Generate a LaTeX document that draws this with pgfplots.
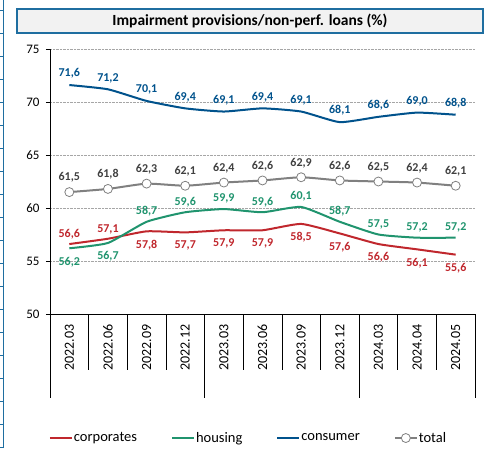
\documentclass[border=0pt]{standalone}
\usepackage{pgfplots}
\pgfplotsset{compat=1.18}
\usepackage{fontspec}
\setmainfont{Carlito}
\definecolor{corp}{RGB}{192,39,45}
\definecolor{hous}{RGB}{32,148,110}
\definecolor{cons}{RGB}{0,82,140}
\definecolor{tot}{RGB}{128,128,128}
\definecolor{totlab}{RGB}{64,64,64}
\definecolor{frameblue}{RGB}{31,110,160}
\definecolor{titlegray}{RGB}{242,242,242}
\newcommand{\lbl}{\pgfmathprintnumber[fixed,fixed zerofill,precision=1,use comma,assume math mode=true]{\pgfplotspointmeta}}
\begin{document}
\begin{tikzpicture}
\useasboundingbox (0pt,0pt) rectangle (487pt,448pt);
% left strip (cut-off neighbouring element)
\draw[frameblue, line width=0.8pt] (3pt,0pt) -- (3pt,448pt);
\foreach \yy in {438,415,392,369,346,323,300,277,254,231,208,185,162,139,116,93,70,47,24,1}
  \draw[frameblue, line width=0.6pt] (0pt,\yy pt) -- (3pt,\yy pt);
% title box
\draw[fill=titlegray, draw=frameblue, line width=1.2pt] (17pt,415pt) rectangle (483pt,439pt);
\node[font=\bfseries\fontsize{15.5}{17}\selectfont] at (250pt,427pt) {Impairment provisions/non-perf. loans (\%)};
\begin{axis}[
  at={(50pt,134pt)}, anchor=south west,
  width=425pt, height=265pt, scale only axis,
  xmin=-0.5, xmax=10.5, ymin=50, ymax=75,
  ytick={50,55,...,75},
  xtick={0,...,10},
  xticklabels={2022.03,2022.06,2022.09,2022.12,2023.03,2023.06,2023.09,2023.12,2024.03,2024.04,2024.05},
  xticklabel style={rotate=90, anchor=east, font=\fontsize{14}{15}\selectfont, xshift=-3pt},
  yticklabel style={font=\fontsize{13}{14}\selectfont, xshift=-3pt},
  /pgf/number format/assume math mode=true,
  axis x line*=bottom, axis y line*=left,
  axis line style={-, black, line width=0.8pt},
  tick align=outside, major tick length=4pt,
  xtick style={draw=none},
  ytick style={black, line width=0.6pt},
  ymajorgrids, grid style={densely dotted, gray!70, line width=0.6pt},
  clip=false,
  legend style={at={(0.466,-0.468)}, anchor=center, draw=none, fill=none,
    legend columns=-1, font=\fontsize{14.5}{16}\selectfont,
    nodes={inner xsep=1pt},
    /tikz/every even column/.append style={column sep=33pt}},
  legend cell align=left,
  legend image code/.code={\draw[mark repeat=2,mark phase=2,#1] plot coordinates {(0pt,0pt) (11pt,0pt) (22pt,0pt)};},
]
% separators below axis
\pgfplotsinvokeforeach{0.5,1.5,2.5,4.5,5.5,6.5,8.5,9.5}
  {\draw[black, line width=0.6pt] (axis cs:#1,50) -- ++(0pt,-56pt);}
\pgfplotsinvokeforeach{-0.5,3.5,7.5,10.5}
  {\draw[black, line width=0.6pt] (axis cs:#1,50) -- ++(0pt,-84pt);}

\addplot[corp, line width=2pt, smooth, tension=0.3, mark=none] coordinates {
 (0,56.6)(1,57.1)(2,57.8)(3,57.7)(4,57.9)(5,57.9)(6,58.5)(7,57.6)(8,56.6)(9,56.1)(10,55.6)};
\addlegendentry{corporates}
\addplot[hous, line width=2pt, smooth, tension=0.3, mark=none] coordinates {
 (0,56.2)(1,56.7)(2,58.7)(3,59.6)(4,59.9)(5,59.6)(6,60.1)(7,58.7)(8,57.5)(9,57.2)(10,57.2)};
\addlegendentry{housing}
\addplot[cons, line width=2pt, smooth, tension=0.3, mark=none] coordinates {
 (0,71.6)(1,71.2)(2,70.1)(3,69.4)(4,69.1)(5,69.4)(6,69.1)(7,68.1)(8,68.6)(9,69.0)(10,68.8)};
\addlegendentry{consumer}
\addplot[tot, line width=2pt, smooth, tension=0.3, mark=*, mark size=4.5pt,
  mark options={fill=white, draw=tot, line width=0.8pt}] coordinates {
 (0,61.5)(1,61.8)(2,62.3)(3,62.1)(4,62.4)(5,62.6)(6,62.9)(7,62.6)(8,62.5)(9,62.4)(10,62.1)};
\addlegendentry{total}

% data labels
\addplot[draw=none, mark=none, forget plot, nodes near coords={\lbl},
  every node near coord/.append style={cons, font=\bfseries\fontsize{12}{13}\selectfont, anchor=south, yshift=3pt}]
 coordinates {(0,71.6)(1,71.2)(2,70.1)(3,69.4)(4,69.1)(5,69.4)(6,69.1)(7,68.1)(8,68.6)(9,69.0)(10,68.8)};
\addplot[draw=none, mark=none, forget plot, nodes near coords={\lbl},
  every node near coord/.append style={totlab, font=\bfseries\fontsize{12}{13}\selectfont, anchor=south, yshift=6pt}]
 coordinates {(0,61.5)(1,61.8)(2,62.3)(3,62.1)(4,62.4)(5,62.6)(6,62.9)(7,62.6)(8,62.5)(9,62.4)(10,62.1)};
\addplot[draw=none, mark=none, forget plot, nodes near coords={\lbl},
  every node near coord/.append style={hous, font=\bfseries\fontsize{12}{13}\selectfont, anchor=south, yshift=2pt}]
 coordinates {(2,58.7)(3,59.6)(4,59.9)(5,59.6)(6,60.1)(7,58.7)(8,57.5)(9,57.2)(10,57.2)};
\addplot[draw=none, mark=none, forget plot, nodes near coords={\lbl},
  every node near coord/.append style={hous, font=\bfseries\fontsize{12}{13}\selectfont, anchor=north, yshift=-5pt}]
 coordinates {(0,56.2)(1,56.7)};
\addplot[draw=none, mark=none, forget plot, nodes near coords={\lbl},
  every node near coord/.append style={corp, font=\bfseries\fontsize{12}{13}\selectfont, anchor=south, yshift=1pt}]
 coordinates {(0,56.6)(1,57.1)};
\addplot[draw=none, mark=none, forget plot, nodes near coords={\lbl},
  every node near coord/.append style={corp, font=\bfseries\fontsize{12}{13}\selectfont, anchor=north, yshift=-5pt}]
 coordinates {(2,57.8)(3,57.7)(4,57.9)(5,57.9)(6,58.5)(7,57.6)(8,56.6)(9,56.1)(10,55.6)};
\end{axis}
\end{tikzpicture}
\end{document}
